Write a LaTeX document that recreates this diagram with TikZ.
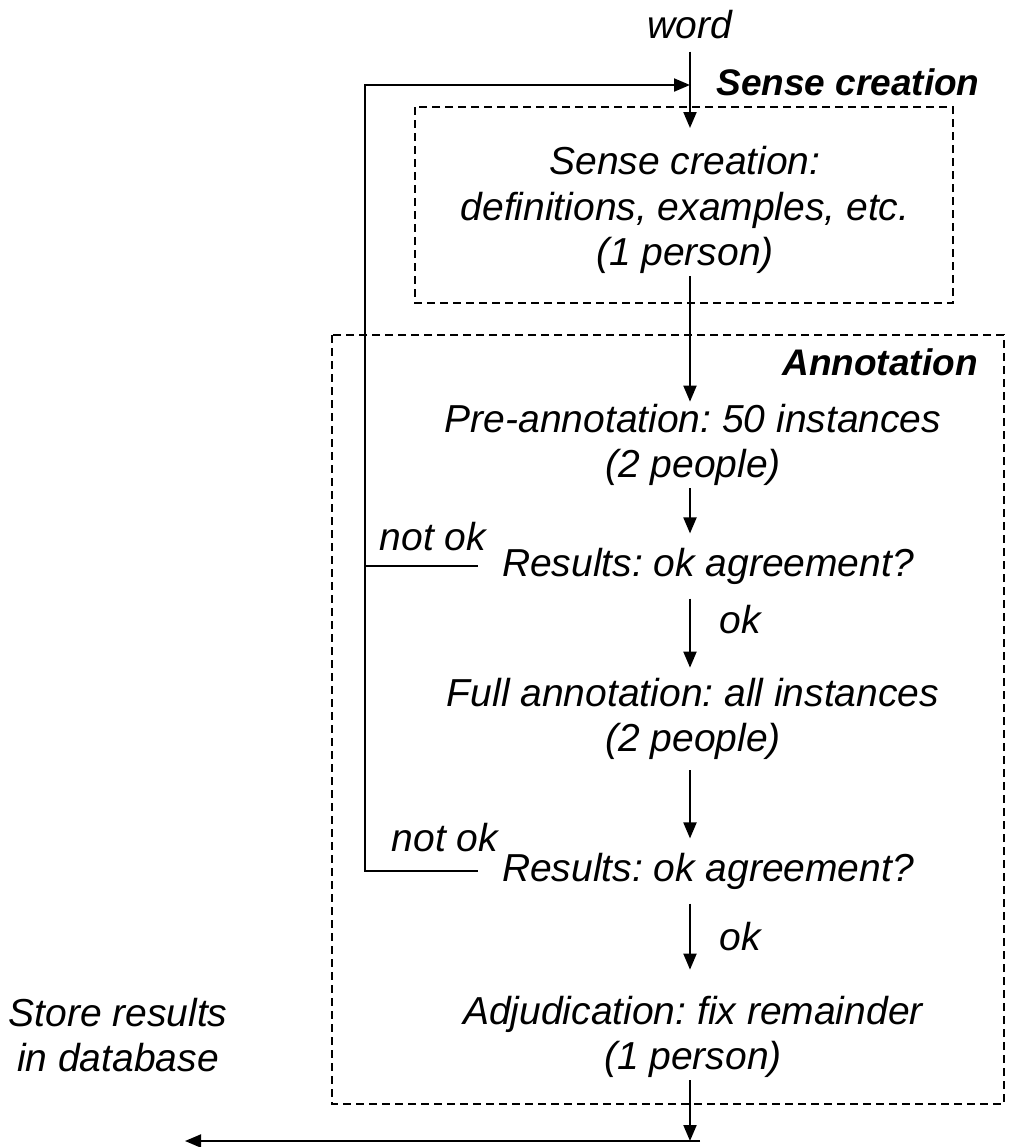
\documentclass[tikz,border=0pt]{standalone}
\usepackage{fontspec}
\setmainfont{Liberation Sans}
\frenchspacing
\usetikzlibrary{arrows.meta}
\usetikzlibrary{positioning}
\tikzstyle{stepnode} = [align=center, font=\fontsize{19.5}{22.8}\selectfont\itshape, inner sep=1pt]
\tikzstyle{resnode} = [stepnode, inner xsep=12pt, inner ysep=7pt]
\tikzstyle{titlenode} = [font=\fontsize{18.5}{22}\selectfont\bfseries\itshape, anchor=east, inner sep=0pt]
\tikzstyle{groupbox} = [draw, line width=0.75pt, dash pattern=on 4pt off 2.5pt]
\tikzstyle{flow} = [line width=1pt, -{Triangle[length=8pt,width=6.5pt]}]
\tikzstyle{back} = [line width=1pt]

\begin{document}
\begin{tikzpicture}[x=0.5pt, y=-0.5pt]
\useasboundingbox (0,0) rectangle (1008,1147);

% groups
\draw[groupbox] (415,107) rectangle (953,303);
\draw[groupbox] (332,335) rectangle (1004,1104);
\node[titlenode] (sctitle) at (980,82) {Sense creation};
\node[titlenode] (antitle) at (978,362) {Annotation};

% steps
\coordinate (spine) at (690,0);
\node[stepnode] (word) at (690,25) {word};
\node[stepnode] (sense) at (685,210) {Sense creation:\\definitions, examples, etc.\\(1 person)};
\node[stepnode] (pre) at (693,445) {Pre-annotation: 50 instances\\(2 people)};
\node[resnode] (res1) at (708,566) {Results: ok agreement?};
\node[stepnode, inner ysep=5pt] (full) at (693,719) {Full annotation: all instances\\(2 people)};
\node[resnode] (res2) at (708,871) {Results: ok agreement?};
\node[stepnode] (adj) at (693,1037) {Adjudication: fix remainder\\(1 person)};
\node[stepnode] (store) at (118,1035) {Store results\\in database};

\node[stepnode] (ok1) at (740,620) {ok};
\node[stepnode] (ok2) at (740,937) {ok};
\node[stepnode] (notok1) at (433,537) {not ok};
\node[stepnode] (notok2) at (445,838) {not ok};

% connectors
\coordinate (senseIn) at (690,128);
\coordinate (loopTop) at (365,85);
\coordinate (loopIn) at (690,85);
\coordinate (down) at (690,1141);
\coordinate (lineStart) at (700,1141);
\coordinate (storeEnd) at (185,1141);

\draw[flow, shorten <=5pt] (word.south -| spine) -- (senseIn);
\draw[flow] (sense.south -| spine) -- (pre.north -| spine);
\draw[flow] (pre.south -| spine) -- (res1.north -| spine);
\draw[flow] (res1.south -| spine) -- (full.north -| spine);
\draw[flow] (full.south -| spine) -- (res2.north -| spine);
\draw[flow, shorten >=12pt] (res2.south -| spine) -- (adj.north -| spine);
\draw[flow] (adj.south -| spine) -- (down);
\draw[flow] (lineStart) -- (storeEnd);

\draw[back] (res1.west) -- (res1.west -| loopTop);
\draw[flow] (res2.west) -| (loopTop) -- (loopIn);
\end{tikzpicture}
\end{document}
